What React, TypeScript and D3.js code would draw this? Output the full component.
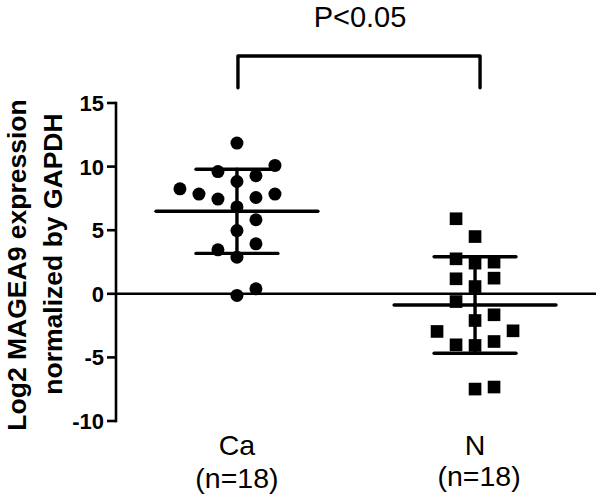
import { deviation, mean, scaleLinear, scalePoint, symbol, symbolSquare } from 'd3';

const width = 600;
const height = 496;
const font = 'Arial, "Liberation Sans", sans-serif';

// groups and their labels
const categories = ['Ca', 'N'];
const groupCounts = ['(n=18)', '(n=18)'];

// Log2 MAGEA9 expression
const caValues = [
	11.85, 10.09, 9.61, 9.28, 8.83, 8.25, 7.84, 7.45, 7.57, 7.84, 6.83, 5.82,
	4.97, 3.93, 3.46, 2.88, 0.39, -0.13,
];
// column slot of each dot in the scatter (left/right of centre)
const caSlots = [0, 2, -1, 1, 0, -3, -2, -1, 1, 2, 0, 1, 0, 1, -1, 0, 1, 0];

const nValues = [
	5.9, 4.5, 2.75, 2.41, 2.49, 1.18, 1.23, 0.57, -0.61, -2.1, -1.65, -2.96,
	-2.91, -4.01, -4.06, -3.75, -7.49, -7.33,
];
const nSlots = [-1, 0, -1, 0, 1, -1, 1, 0, -1, 0, 1, -2, 2, -1, 0, 1, 0, 1];

const yTicks = [15, 10, 5, 0, -5, -10];
const pLabel = 'P<0.05';
const bracketTop = 18.7;
const bracketBottom = 16.2;

const yTitle = ['Log2 MAGEA9 expression', 'normalized by GAPDH'];

const App = () => {
	const xScale = scalePoint<string>()
		.domain(categories)
		.range([116, 596])
		.padding(0.508);
	const step = xScale.step();
	const yScale = scaleLinear().domain([-10, 15]).range([421, 103]);
	const slotScale = scaleLinear().domain([0, 1]).range([0, 19]);

	const groups = [
		{ cat: 'Ca', values: caValues, slots: caSlots, shape: 'circle' },
		{ cat: 'N', values: nValues, slots: nSlots, shape: 'square' },
	];
	const square = symbol().type(symbolSquare).size(160)() || '';

	return (
		<svg
			width={width}
			height={height}
			style={{ position: 'absolute', left: 0, top: 0, background: '#fff' }}
		>
			{/* y title */}
			{yTitle.map((t, i) => (
				<text
					key={t}
					transform={`translate(${i === 0 ? 26 : 62},${i === 0 ? 265 : 254}) rotate(-90)`}
					textAnchor="middle"
					fontFamily={font}
					fontWeight="bold"
					fontSize={26.5}
				>
					{t}
				</text>
			))}

			{/* y axis */}
			<line
				x1={116}
				x2={116}
				y1={yScale(15)}
				y2={yScale(-10)}
				stroke="#000"
				strokeWidth={2.6}
				strokeLinecap="square"
			/>
			{yTicks.map(t => (
				<g key={t} transform={`translate(0,${yScale(t)})`}>
					<line x1={107} x2={116} stroke="#000" strokeWidth={2.6} />
					<text
						x={104}
						dy=".36em"
						textAnchor="end"
						fontFamily={font}
						fontWeight="bold"
						fontSize={22}
					>
						{t}
					</text>
				</g>
			))}
			{/* zero line */}
			<line
				x1={116}
				x2={596}
				y1={yScale(0)}
				y2={yScale(0)}
				stroke="#000"
				strokeWidth={2.6}
			/>

			{/* points */}
			{groups.map(g =>
				g.values.map((v, i) => {
					const cx = (xScale(g.cat) || 0) + slotScale(g.slots[i]);
					const cy = yScale(v);
					return g.shape === 'circle' ? (
						<circle key={g.cat + i} cx={cx} cy={cy} r={6.5} fill="#000" />
					) : (
						<path
							key={g.cat + i}
							d={square}
							transform={`translate(${cx},${cy})`}
							fill="#000"
						/>
					);
				}),
			)}

			{/* mean and SD */}
			{groups.map(g => {
				const cx = xScale(g.cat) || 0;
				const m = mean(g.values) || 0;
				const sd = deviation(g.values) || 0;
				const meanHalf = step * 0.34;
				const sdHalf = step * 0.172;
				return (
					<g key={g.cat} stroke="#000" strokeWidth={3.4} strokeLinecap="round">
						<line x1={cx - meanHalf} x2={cx + meanHalf} y1={yScale(m)} y2={yScale(m)} />
						<line x1={cx} x2={cx} y1={yScale(m + sd)} y2={yScale(m - sd)} />
						<line
							x1={cx - sdHalf}
							x2={cx + sdHalf}
							y1={yScale(m + sd)}
							y2={yScale(m + sd)}
						/>
						<line
							x1={cx - sdHalf}
							x2={cx + sdHalf}
							y1={yScale(m - sd)}
							y2={yScale(m - sd)}
						/>
					</g>
				);
			})}

			{/* significance bracket */}
			<path
				d={`M${(xScale('Ca') || 0) + 1},${yScale(bracketBottom)}V${yScale(bracketTop)}H${(xScale('N') || 0) + 5}V${yScale(bracketBottom)}`}
				fill="none"
				stroke="#000"
				strokeWidth={3.4}
				strokeLinecap="round"
				strokeLinejoin="round"
			/>
			<text
				x={((xScale('Ca') || 0) + (xScale('N') || 0)) / 2 + 4}
				y={27}
				textAnchor="middle"
				fontFamily={font}
				fontSize={29}
			>
				{pLabel}
			</text>

			{/* category labels */}
			{categories.map((c, i) => (
				<g key={c} fontFamily={font} fontSize={28.5} textAnchor="middle">
					<text x={xScale(c)} y={455}>
						{c}
					</text>
					<text x={(xScale(c) || 0) + (i === 1 ? 4 : 0)} y={i === 1 ? 486 : 488}>
						{groupCounts[i]}
					</text>
				</g>
			))}
		</svg>
	);
};

export default App;
